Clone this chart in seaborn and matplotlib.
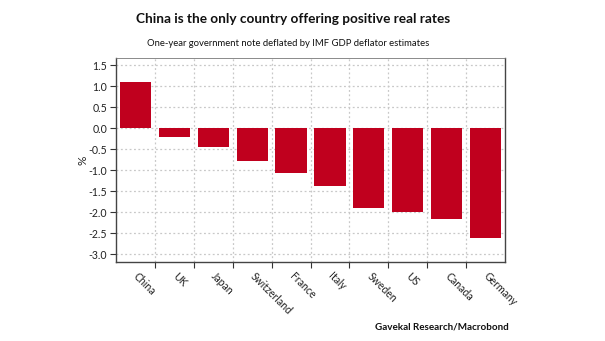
import matplotlib
matplotlib.use("Agg")
import matplotlib.pyplot as plt
import seaborn as sns
import pandas as pd
import numpy as np

countries = ["China", "UK", "Japan", "Switzerland", "France", "Italy",
             "Sweden", "US", "Canada", "Germany"]
real_rates = [1.10, -0.22, -0.45, -0.78, -1.07, -1.38, -1.91, -2.00, -2.17, -2.62]
yticks = [1.5, 1.0, 0.5, 0.0, -0.5, -1.0, -1.5, -2.0, -2.5, -3.0]

title = "China is the only country offering positive real rates"
subtitle = "One-year government note deflated by IMF GDP deflator estimates"
source = "Gavekal Research/Macrobond"

sns.set_theme(style="white")
plt.rcParams['font.family'] = ['Lato', 'DejaVu Sans']

df = pd.DataFrame({"country": countries, "value": real_rates})

W, H = 605, 341
fig = plt.figure(figsize=(W / 100, H / 100), dpi=100)
ax = fig.add_axes([116 / W, 1 - 262 / H, (505 - 116) / W, (262 - 58) / H])

red = "#C0001E"
sns.barplot(data=df, x="country", y="value", color=red, width=0.8,
            saturation=1, ax=ax, zorder=3, linewidth=0, edgecolor=red)

ax.set_xlim(-0.5, len(countries) - 0.5)
ax.set_ylim(-3.19, 1.67)
ax.set_yticks(yticks)
ax.set_yticklabels([f"{v:.1f}" for v in yticks])

# category labels at centres, tick marks/grid at boundaries
ax.set_xticks(range(len(countries)))
ax.set_xticklabels(countries, rotation=-45, ha="left", va="center",
                   rotation_mode="anchor")
ax.set_xticks(np.arange(0.5, len(countries) - 0.5, 1), minor=True)
ax.tick_params(axis="x", which="major", length=0, pad=9, labelsize=7.6,
               labelcolor="#222222")
ax.tick_params(axis="x", which="minor", length=4, width=0.8, color="#333333",
               direction="out", bottom=True)
ax.tick_params(axis="y", length=4, width=0.8, color="#333333", direction="out",
               left=True, labelsize=7.6, labelcolor="#222222", pad=2.5)

ax.grid(False)
ax.grid(True, which="minor", axis="x", linestyle=(0, (1.5, 2)), color="#c8c8c8",
        linewidth=0.9, zorder=0)
ax.grid(True, which="major", axis="y", linestyle=(0, (1.5, 2)), color="#c8c8c8",
        linewidth=0.9, zorder=0)
ax.set_axisbelow(True)

for side in ["left", "bottom", "right"]:
    ax.spines[side].set_color("#444444")
    ax.spines[side].set_linewidth(1.0)
ax.spines["top"].set_color("#777777")
ax.spines["top"].set_linewidth(0.6)

ax.set_xlabel("")
ax.set_ylabel("%", fontsize=8.5, color="#222222", labelpad=0)


def fit_text(x, y, s, target_w, weight, ha="center"):
    t = fig.text(x / W, 1 - y / H, s, ha=ha, va="center", fontsize=10,
                 fontweight=weight, color="#111111")
    r = fig.canvas.get_renderer()
    w = t.get_window_extent(renderer=r).width
    t.set_fontsize(10 * target_w / w)
    return t


fig.canvas.draw()
fit_text(293, 19, title, 315, "bold")
fit_text(288, 43, subtitle, 284, "normal")
fit_text(509, 327, source, 134, "bold", ha="right")

fig.savefig("out.png", dpi=100)
